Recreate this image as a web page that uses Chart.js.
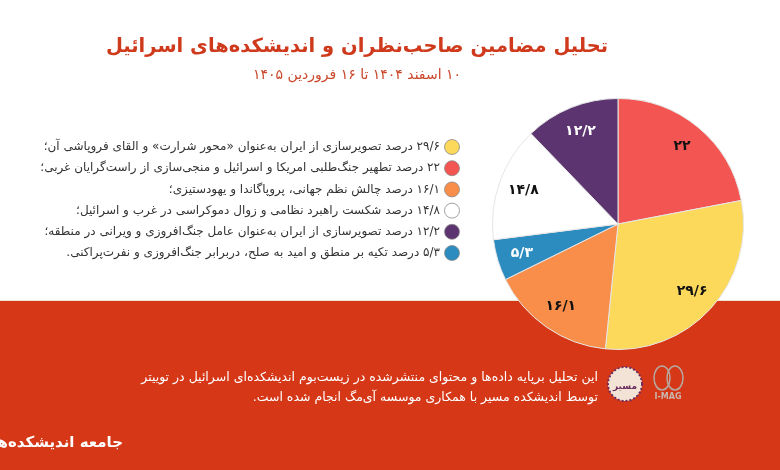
<!DOCTYPE html>
<html lang="fa">
<head>
<meta charset="utf-8">
<title>تحلیل مضامین صاحب‌نظران و اندیشکده‌های اسرائیل</title>
<script src="https://cdn.jsdelivr.net/npm/chart.js@4.4.1/dist/chart.umd.min.js"></script>
<style>
  html, body { margin: 0; padding: 0; background: #fff; }
  #wrap { width: 780px; height: 470px; }
</style>
</head>
<body>
<div id="wrap"><canvas id="pie" width="780" height="470"></canvas></div>
<script>
// slices in drawing order (clockwise from top)
const values = [22, 29.6, 16.1, 5.3, 14.8, 12.2];
const colors = ['#F25552', '#FCD95B', '#F98E4A', '#2C8CC0', '#FFFFFF', '#5B3470'];
const topics = [
    'درصد تطهیر جنگ‌طلبی امریکا و اسرائیل و منجی‌سازی از راست‌گرایان غربی؛',
    'درصد تصویرسازی از ایران به‌عنوان «محور شرارت» و القای فروپاشی آن؛',
    'درصد چالش نظم جهانی، پروپاگاندا و یهودستیزی؛',
    'درصد تکیه بر منطق و امید به صلح، دربرابر جنگ‌افروزی و نفرت‌پراکنی.',
    'درصد شکست راهبرد نظامی و زوال دموکراسی در غرب و اسرائیل؛',
    'درصد تصویرسازی از ایران به‌عنوان عامل جنگ‌افروزی و ویرانی در منطقه؛'
];
const title = 'تحلیل مضامین صاحب‌نظران و اندیشکده‌های اسرائیل';
const subtitle = '۱۰ اسفند ۱۴۰۴ تا ۱۶ فروردین ۱۴۰۵';
const footerLines = [
    'این تحلیل برپایه داده‌ها و محتوای منتشرشده در زیست‌بوم اندیشکده‌ای اسرائیل در توییتر',
    'توسط اندیشکده مسیر با همکاری موسسه آی‌مگ انجام شده است.'
];
const brand = 'جامعه اندیشکده‌ها';

const FONT = '"DejaVu Sans", sans-serif';
const RED = '#D53717';

// 29.6 -> ۲۹/۶
function faNum(v) {
    return String(v).replace('.', '/').replace(/[0-9]/g, d => '۰۱۲۳۴۵۶۷۸۹'[d]);
}

// white page with the red band at the bottom
const backdrop = {
    id: 'backdrop',
    beforeDraw(chart) {
        const ctx = chart.ctx;
        ctx.save();
        ctx.fillStyle = '#fff';
        ctx.fillRect(0, 0, chart.width, chart.height);
        ctx.fillStyle = '#EFE3D6';
        ctx.fillRect(0, 300, chart.width, 2);
        ctx.fillStyle = RED;
        ctx.fillRect(0, 301, chart.width, chart.height - 301);
        ctx.restore();
    }
};

// title, legend, slice labels and footer
const decor = {
    id: 'decor',
    afterDraw(chart) {
        const ctx = chart.ctx;
        ctx.save();
        ctx.direction = 'rtl';
        ctx.textBaseline = 'middle';

        // title
        ctx.textAlign = 'center';
        ctx.fillStyle = '#CF3A1C';
        ctx.font = 'bold 19.5px ' + FONT;
        ctx.fillText(title, 357, 47);
        ctx.font = '14px ' + FONT;
        ctx.fillStyle = '#C9472A';
        ctx.fillText(subtitle, 357, 75);

        // legend, largest share first
        const order = values.map((v, i) => i).sort((a, b) => values[b] - values[a]);
        ctx.font = '12px ' + FONT;
        order.forEach((idx, row) => {
            const y = 147 + row * 21.2;
            ctx.beginPath();
            ctx.arc(452, y, 7.5, 0, Math.PI * 2);
            ctx.fillStyle = colors[idx];
            ctx.fill();
            ctx.lineWidth = 0.8;
            ctx.strokeStyle = '#8a8a8a';
            ctx.stroke();
            ctx.textAlign = 'right';
            ctx.fillStyle = '#333';
            ctx.fillText(faNum(values[idx]) + ' ' + topics[idx], 440, y);
        });

        // slice labels
        const arcs = chart.getDatasetMeta(0).data;
        ctx.textAlign = 'center';
        ctx.font = 'bold 14px ' + FONT;
        arcs.forEach((arc, i) => {
            const p = arc.getProps(['x', 'y', 'startAngle', 'endAngle', 'outerRadius'], true);
            const mid = (p.startAngle + p.endAngle) / 2;
            const r = p.outerRadius * 0.8;
            ctx.fillStyle = colors[i] === '#5B3470' || colors[i] === '#2C8CC0' ? '#fff' : '#111';
            ctx.fillText(faNum(values[i]), p.x + Math.cos(mid) * r, p.y + Math.sin(mid) * r);
        });

        // footer
        ctx.textAlign = 'right';
        ctx.fillStyle = '#fff';
        ctx.font = '12.5px ' + FONT;
        ctx.fillText(footerLines[0], 598, 378);
        ctx.fillText(footerLines[1], 598, 398);

        // masir badge
        ctx.beginPath();
        ctx.arc(625, 384, 17, 0, Math.PI * 2);
        ctx.fillStyle = '#F3E2D6';
        ctx.fill();
        ctx.setLineDash([2, 2]);
        ctx.strokeStyle = '#6B2C5E';
        ctx.lineWidth = 2;
        ctx.stroke();
        ctx.setLineDash([]);
        ctx.textAlign = 'center';
        ctx.fillStyle = '#6B2C5E';
        ctx.font = 'bold 9px ' + FONT;
        ctx.fillText('مسیر', 625, 387);

        // i-mag badge
        ctx.strokeStyle = '#B7A8A0';
        ctx.lineWidth = 1.5;
        ctx.beginPath();
        ctx.ellipse(662, 378, 8, 12, 0, 0, Math.PI * 2);
        ctx.stroke();
        ctx.beginPath();
        ctx.ellipse(675, 378, 8, 12, 0, 0, Math.PI * 2);
        ctx.stroke();
        ctx.fillStyle = '#C9B8AE';
        ctx.font = 'bold 8px ' + FONT;
        ctx.direction = 'ltr';
        ctx.fillText('I-MAG', 668, 397);

        // brand, cut at the left edge
        ctx.direction = 'rtl';
        ctx.textAlign = 'right';
        ctx.fillStyle = '#fff';
        ctx.font = 'bold 15px ' + FONT;
        ctx.fillText(brand, 123, 443);
        ctx.restore();
    }
};

new Chart(document.getElementById('pie'), {
    type: 'pie',
    data: {
        labels: topics,
        datasets: [{
            data: values,
            backgroundColor: colors,
            borderColor: '#e6e6e6',
            borderWidth: 1
        }]
    },
    options: {
        responsive: false,
        animation: false,
        devicePixelRatio: 1,
        layout: { padding: { left: 492, right: 36, top: 98, bottom: 120 } },
        plugins: {
            legend: { display: false },
            tooltip: { enabled: false }
        }
    },
    plugins: [backdrop, decor]
});
</script>
</body>
</html>
